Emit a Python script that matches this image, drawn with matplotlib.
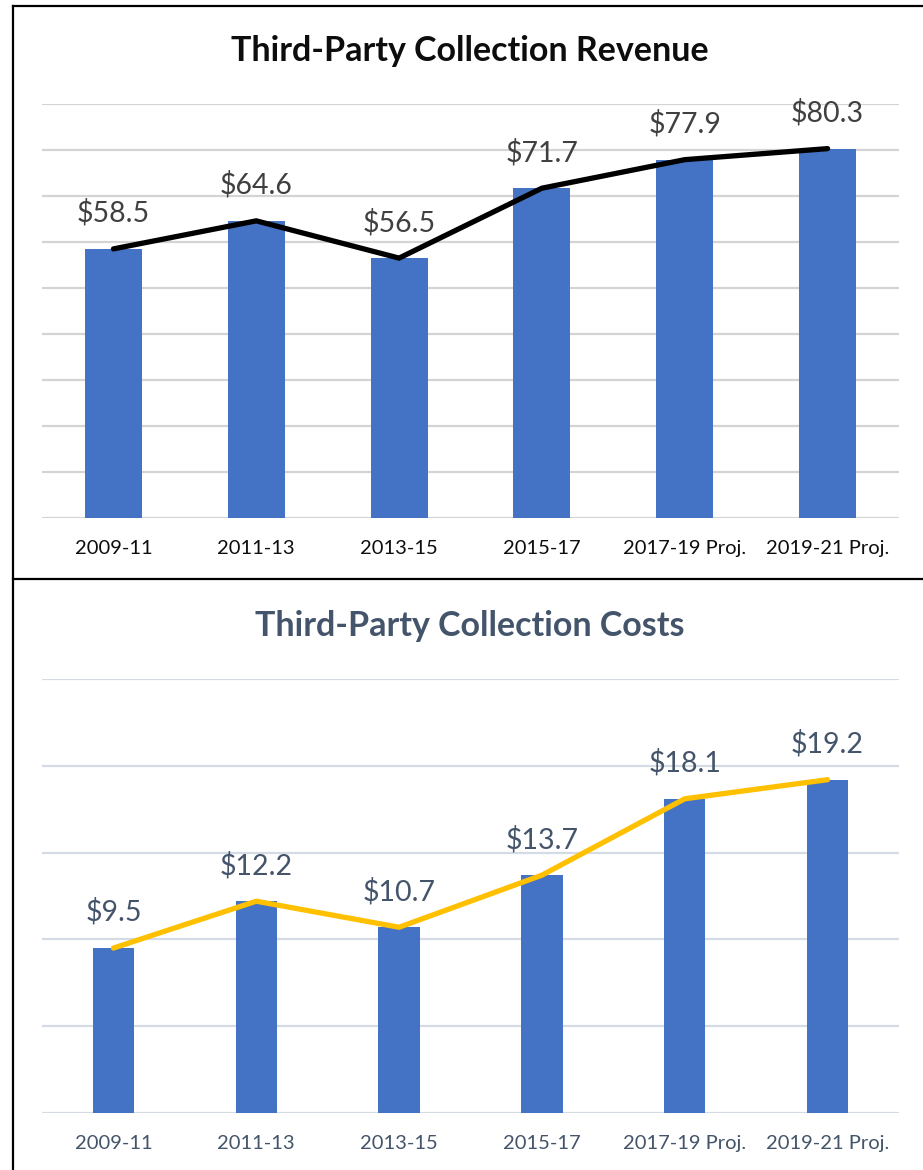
import numpy as np
import matplotlib.pyplot as plt
from matplotlib.lines import Line2D

plt.rcParams['font.family'] = ['Lato', 'DejaVu Sans']

# Data
periods = ['2009-11', '2011-13', '2013-15', '2015-17', '2017-19 Proj.', '2019-21 Proj.']
revenue = [58.5, 64.6, 56.5, 71.7, 77.9, 80.3]
costs = [9.5, 12.2, 10.7, 13.7, 18.1, 19.2]

W, H = 923, 1170
fig = plt.figure(figsize=(W / 100, H / 100), dpi=100)

BAR = '#4472C4'


def fx(px):
    return px / W


def fy(py):
    return 1 - py / H


def panel(rect, values, ylim, step, bar_w, line_color, grid_color, text_color, label_color):
    ax = fig.add_axes(rect)
    x = np.arange(len(values))
    ax.bar(x, values, width=bar_w, color=BAR, zorder=2)
    ax.plot(x, values, color=line_color, lw=3.8, solid_capstyle='round',
            solid_joinstyle='miter', zorder=3)
    for xi, v in zip(x, values):
        ax.annotate(f'${v:.1f}', (xi, v), xytext=(0, 19.5), textcoords='offset points',
                    ha='center', va='baseline', fontsize=20.5, color=label_color)
    ax.set_xlim(-0.5, len(values) - 0.5)
    ax.set_ylim(*ylim)
    ax.set_yticks(np.arange(ylim[0], ylim[1] + step / 2, step))
    ax.yaxis.grid(True, color=grid_color, lw=1.6, zorder=0)
    ax.set_axisbelow(True)
    ax.tick_params(axis='y', left=False, labelleft=False)
    ax.set_xticks(x)
    ax.set_xticklabels(periods, fontsize=14.5, color=text_color)
    ax.tick_params(axis='x', length=0, pad=16)
    for s in ax.spines.values():
        s.set_visible(False)
    return ax


ax1 = panel([fx(42), fy(518), fx(899) - fx(42), fy(104) - fy(518)], revenue, (0, 90), 10,
            0.4, 'black', '#d4d4d4', '#0d0d0d', '#404040')
ax2 = panel([fx(42), fy(1113), fx(899) - fx(42), fy(679) - fy(1113)], costs, (0, 25), 5,
            0.29, '#FFC000', '#d5dbe4', '#44546A', '#44546A')

fig.text(fx(470), fy(51), 'Third-Party Collection Revenue', ha='center', va='center',
         fontsize=24.5, fontweight='bold', color='#0d0d0d')
fig.text(fx(470), fy(626), 'Third-Party Collection Costs', ha='center', va='center',
         fontsize=24.5, fontweight='bold', color='#44546A')

# Panel borders
for xs, ys in [((13, W), (6, 6)), ((13, 13), (6, H)), ((13, W), (579, 579))]:
    fig.add_artist(Line2D([fx(xs[0]), fx(xs[1])], [fy(ys[0]), fy(ys[1])],
                          transform=fig.transFigure, color='black', lw=1.6))

fig.savefig('out.png', dpi=100)
